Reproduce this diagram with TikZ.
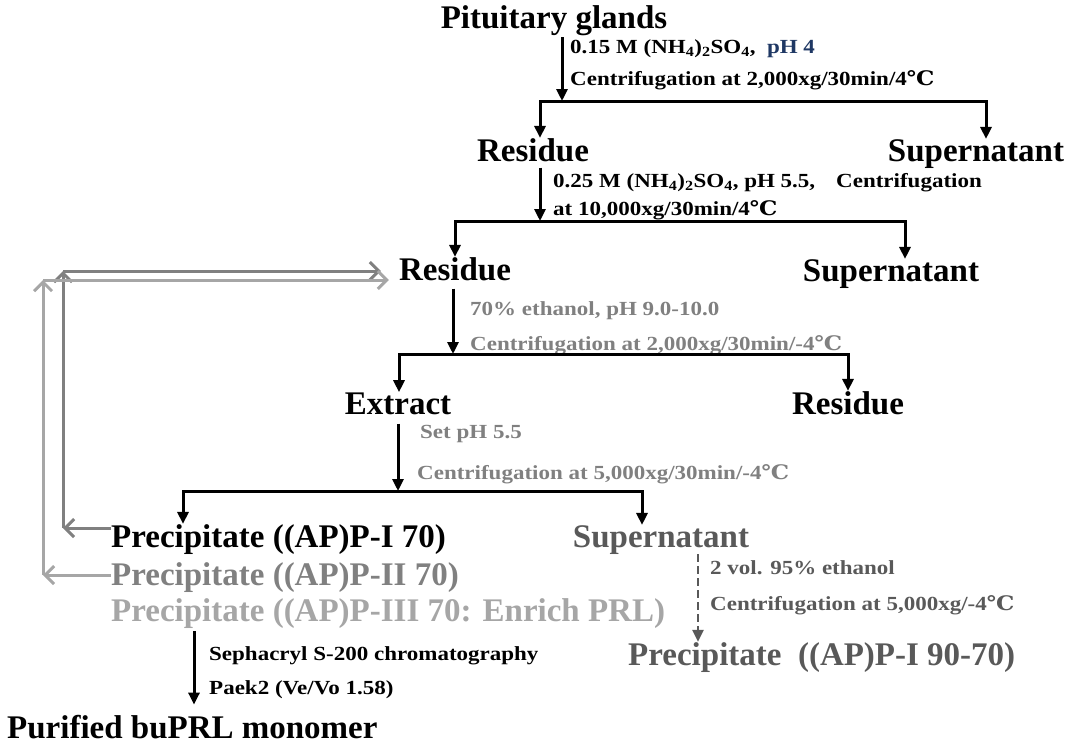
\documentclass[tikz,border=0pt]{standalone}
\usepackage{fontspec}
\setmainfont{Liberation Serif}
\newfontfamily\notefam[FakeStretch=1.15]{Liberation Serif}
\newfontfamily\celfam[FakeStretch=1.15]{DejaVu Serif}
\usetikzlibrary{arrows.meta}

\definecolor{navy}{HTML}{1F3864}
\definecolor{midgray}{HTML}{808080}
\definecolor{palegray}{HTML}{A6A6A6}
\definecolor{deepgray}{HTML}{595959}

\newcommand{\hdfont}{\fontsize{33}{36}\selectfont\bfseries}
\newcommand{\ntfont}{\notefam\fontsize{20}{22}\selectfont\bfseries}
\newcommand{\cel}{{\celfam ℃}}
\newcommand{\sbs}[1]{\textsubscript{#1}}

\begin{document}
\begin{tikzpicture}[x=1pt,y=-1pt,>={Triangle[length=12pt,width=11pt]},
    head/.style={font=\hdfont,inner sep=0pt,anchor=base},
    note/.style={font=\ntfont,inner sep=0pt,anchor=base west},
    flow/.style={line width=3pt},
    back/.style={line width=3pt,-{Straight Barb[length=9pt,width=18pt]}}]
  \useasboundingbox (0,0) rectangle (1067,745);

  % fractions
  \node[head] (pit) at (554,28) {Pituitary glands};
  \node[head] (res1) at (533,161) {Residue};
  \node[head] (sup1) at (976,161) {Supernatant};
  \node[head] (res2) at (455,280) {Residue};
  \node[head] (sup2) at (891,281) {Supernatant};
  \node[head] (ext) at (398,414) {Extract};
  \node[head] (res3) at (848,414) {Residue};
  \node[head,anchor=base west] (p1) at (111,547) {Precipitate ((AP)P-I 70)};
  \node[head,deepgray] (supn) at (661,547) {Supernatant};
  \node[head,anchor=base west,midgray] (p2) at (111,585) {Precipitate ((AP)P-II 70)};
  \node[head,anchor=base west,palegray] (p3) at (111,621) {Precipitate ((AP)P-III 70: Enrich PRL)};
  \node[head,anchor=base west,deepgray] (p9070) at (628,665) {Precipitate\ \ ((AP)P-I 90-70)};
  \node[head,anchor=base west] (pur) at (7,738) {Purified buPRL monomer};

  % conditions
  \node[note] (n1a) at (570,53) {0.15 M (NH\sbs{4})\sbs{2}SO\sbs{4},\ \ \textcolor{navy}{pH 4}};
  \node[note] (n1b) at (570,85) {Centrifugation at 2,000xg/30min/4\cel};
  \node[note] (n2a) at (553,187) {0.25 M (NH\sbs{4})\sbs{2}SO\sbs{4}, pH 5.5,};
  \node[note] (n2b) at (553,215) {at 10,000xg/30min/4\cel};
  \node[note] (n2c) at (836,187) {Centrifugation};
  \node[note,midgray] (n3a) at (470,315) {70\% ethanol, pH 9.0-10.0};
  \node[note,midgray] (n3b) at (470,350) {Centrifugation at 2,000xg/30min/-4\cel};
  \node[note,midgray] (n4a) at (420,438) {Set pH 5.5};
  \node[note,midgray] (n4b) at (417,479) {Centrifugation at 5,000xg/30min/-4\cel};
  \node[note,deepgray] (n5a) at (710,574) {2 vol. 95\% ethanol};
  \node[note,deepgray] (n5b) at (710,610) {Centrifugation at 5,000xg/-4\cel};
  \node[note] (n6a) at (209,660) {Sephacryl S-200 chromatography};
  \node[note] (n6b) at (209,694) {Paek2 (Ve/Vo 1.58)};

  % branch points
  \coordinate (b1) at (562,101); \coordinate (b1l) at (540,101); \coordinate (b1r) at (986,101);
  \coordinate (b2) at (540,221); \coordinate (b2l) at (455,221); \coordinate (b2r) at (905,221);
  \coordinate (b3) at (453,354); \coordinate (b3l) at (399,354); \coordinate (b3r) at (848,354);
  \coordinate (b4) at (398,491); \coordinate (b4l) at (183,491); \coordinate (b4r) at (642,491);
  \coordinate (b5) at (194,640); \coordinate (b6) at (698,600);
  \coordinate (g1b) at (63,528); \coordinate (g1t) at (63,271);
  \coordinate (g2b) at (43,575); \coordinate (g2t) at (43,280);

  \draw[flow,->,shorten <=2pt] (pit.south -| b1) -- (b1);
  \draw[flow,<->] (res1.north -| b1l) -- (b1l) -- (b1r) -- (sup1.north -| b1r);
  \draw[flow,->,shorten <=6pt] (res1.south -| b2) -- (b2);
  \draw[flow,<->] (res2.north -| b2l) -- (b2l) -- (b2r) -- (sup2.north -| b2r);
  \draw[flow,->,shorten <=8pt] (res2.south -| b3) -- (b3);
  \draw[flow,<->] (ext.north -| b3l) -- (b3l) -- (b3r) -- (res3.north -| b3r);
  \draw[flow,->,shorten <=9pt] (ext.south -| b4) -- (b4);
  \draw[flow,<->] (p1.north -| b4l) -- (b4l) -- (b4r) -- (supn.north -| b4r);
  \draw[flow,->,shorten <=3pt,shorten >=10pt] (p3.south -| b5) -- (pur.north -| b5);
  \draw[flow,->,deepgray,line width=2.6pt,dash pattern=on 8pt off 4pt] (supn.south -| b6) -- (p9070.north -| b6);

  % recycled precipitates
  \draw[back,midgray] (g1b -| p1.west) -- (g1b);
  \draw[back,midgray] (g1b) -- (g1t);
  \draw[back,midgray,shorten >=18pt] (g1t) -- (g1t -| res2.west);
  \draw[back,palegray] (g2b -| p2.west) -- (g2b);
  \draw[back,palegray] (g2b) -- (g2t);
  \draw[back,palegray,shorten >=10pt] (g2t) -- (g2t -| res2.west);
\end{tikzpicture}
\end{document}
